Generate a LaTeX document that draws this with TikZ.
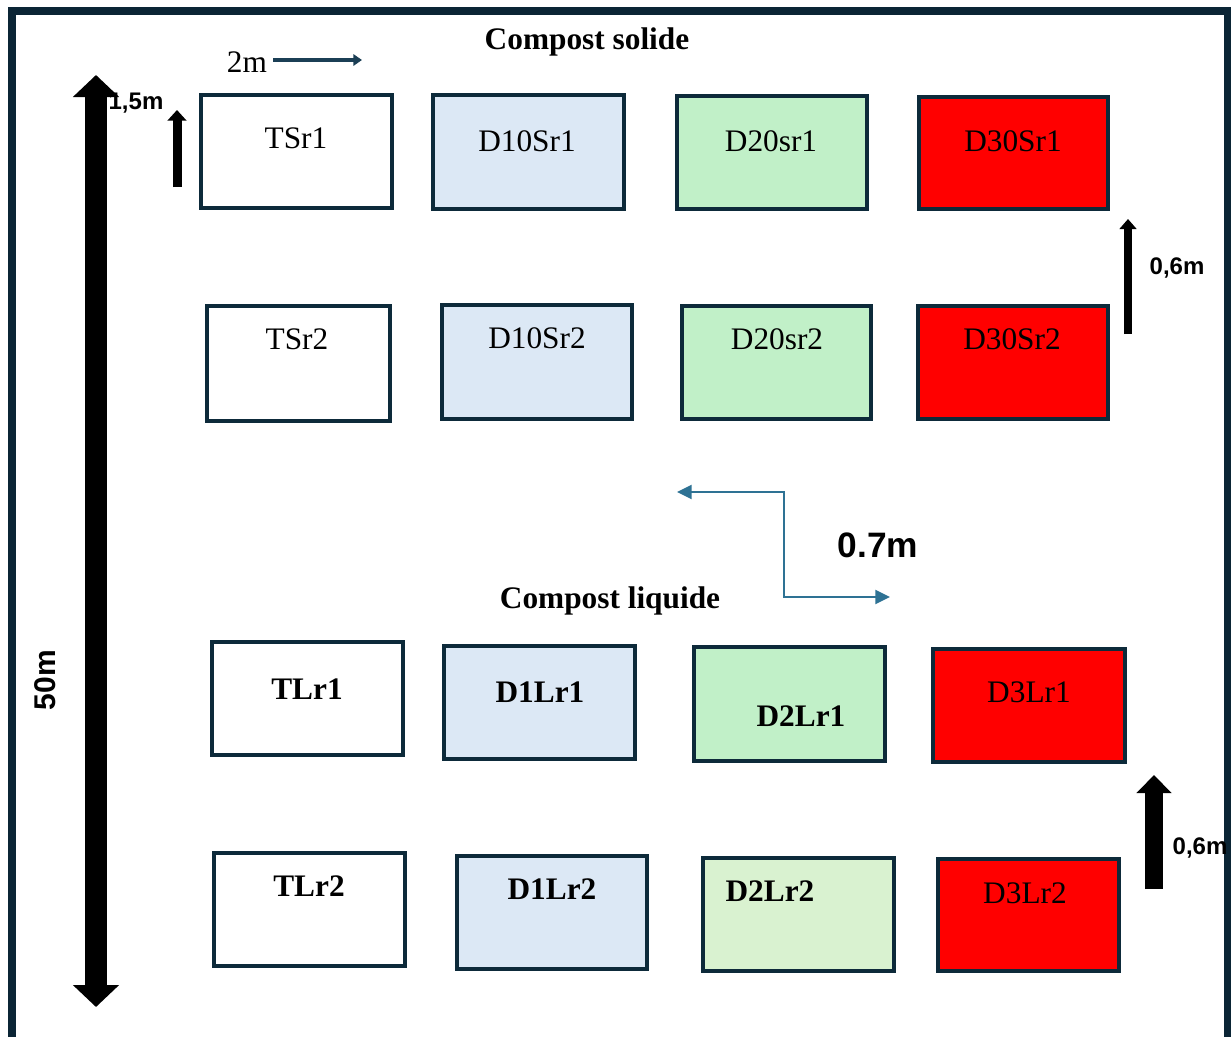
\documentclass[tikz,border=0pt]{standalone}
\usepackage{fontspec}
\setmainfont{Liberation Serif}
\newfontfamily\arialf{Liberation Sans}
\usetikzlibrary{arrows.meta}
\definecolor{framec}{HTML}{0B2535}
\definecolor{boxc}{HTML}{0D2A3A}
\definecolor{lblue}{HTML}{DCE8F5}
\definecolor{lgreen}{HTML}{C1F0C8}
\definecolor{pgreen}{HTML}{D9F2D0}
\definecolor{rred}{HTML}{FF0000}
\definecolor{navyarrow}{HTML}{1B3F55}
\definecolor{tealc}{HTML}{2E7294}
\tikzset{
  box/.style={draw=boxc, line width=2.6pt, inner sep=0pt},
  sz/.style 2 args={minimum width=#1*0.75pt, minimum height=#2*0.75pt},
  lab/.style={inner sep=0pt, font=\fontsize{23.5}{28}\selectfont},
  blab/.style={inner sep=0pt, font=\fontsize{23.5}{28}\selectfont\bfseries},
  slab/.style={inner sep=0pt, font=\arialf\bfseries\fontsize{18}{22}\selectfont},
  blk/.style={draw=black, line cap=butt},
}
\begin{document}
\begin{tikzpicture}[x=0.75pt,y=-0.75pt]
\useasboundingbox (0,0) rectangle (1231,1036);
\fill[white] (0,0) rectangle (1231,1036);
% frame
\draw[framec, line width=6pt] (11.5,1070) -- (11.5,11) -- (1227.5,11) -- (1227.5,1070);

% row 1
\node[box, sz={191}{113}] (TSr1) at (296.5,151.5) {};
\node[box, fill=lblue, sz={191}{114}] (D10Sr1) at (528.5,152) {};
\node[box, fill=lgreen, sz={190}{113}] (D20sr1) at (772,152.5) {};
\node[box, fill=rred, sz={189}{112}] (D30Sr1) at (1013.5,153) {};
% row 2
\node[box, sz={183}{115}] (TSr2) at (298.5,363.5) {};
\node[box, fill=lblue, sz={190}{114}] (D10Sr2) at (537,362) {};
\node[box, fill=lgreen, sz={189}{113}] (D20sr2) at (776.5,362.5) {};
\node[box, fill=rred, sz={190}{113}] (D30Sr2) at (1013,362.5) {};
% row 3
\node[box, sz={191}{113}] (TLr1) at (307.5,698.5) {};
\node[box, fill=lblue, sz={191}{113}] (D1Lr1) at (539.5,702.5) {};
\node[box, fill=lgreen, sz={191}{114}] (D2Lr1) at (789.5,704) {};
\node[box, fill=rred, sz={192}{113}] (D3Lr1) at (1029,705.5) {};
% row 4
\node[box, sz={191}{113}] (TLr2) at (309.5,909.5) {};
\node[box, fill=lblue, sz={190}{113}] (D1Lr2) at (552,912.5) {};
\node[box, fill=pgreen, sz={191}{113}] (D2Lr2) at (798.5,914.5) {};
\node[box, fill=rred, sz={181}{112}] (D3Lr2) at (1028.5,915) {};

% box labels
\node[lab] (tTSr1) at (296,138) {TSr1};
\node[lab] (tD10Sr1) at (527,141) {D10Sr1};
\node[lab] (tD20sr1) at (771,141) {D20sr1};
\node[lab] (tD30Sr1) at (1013,141) {D30Sr1};
\node[lab] (tTSr2) at (297,339) {TSr2};
\node[lab] (tD10Sr2) at (537,338) {D10Sr2};
\node[lab] (tD20sr2) at (777,339) {D20sr2};
\node[lab] (tD30Sr2) at (1012,339) {D30Sr2};
\node[blab] (tTLr1) at (307,689) {TLr1};
\node[blab] (tD1Lr1) at (540,692) {D1Lr1};
\node[blab] (tD2Lr1) at (801,716) {D2Lr1};
\node[lab] (tD3Lr1) at (1029,692) {D3Lr1};
\node[blab] (tTLr2) at (309,886) {TLr2};
\node[blab] (tD1Lr2) at (552,889) {D1Lr2};
\node[blab] (tD2Lr2) at (770,891) {D2Lr2};
\node[lab] (tD3Lr2) at (1025,893) {D3Lr2};

% titles
\node[blab] (tsol) at (587,42) {Compost solide};
\node[blab] (tliq) at (610,601) {Compost liquide};

% 2m arrow
\node[lab] (t2m) at (247,62) {2m};
\coordinate (a2s) at (273,60);
\coordinate (a2e) at (362,60);
\draw[navyarrow, line width=3pt, -{Triangle[width=8.5pt,length=6.5pt]}] (a2s) -- (a2e);

% big 50m arrow
\coordinate (bigT) at (96,75);
\coordinate (bigB) at (96,1007);
\draw[blk, line width=17pt, {Triangle[width=33.75pt,length=16.5pt]}-{Triangle[width=33.75pt,length=16.5pt]}] (bigT) -- (bigB);
\node[inner sep=0pt, rotate=90, font=\arialf\bfseries\fontsize{22.5}{26}\selectfont] (t50) at (45,680) {50m};

% 1,5m arrow
\coordinate (a15s) at (177,187);
\coordinate (a15e) at (177,110);
\draw[blk, line width=6.75pt, -{Triangle[width=14pt,length=8pt]}] (a15s) -- (a15e);
\node[slab] (t15) at (136,103) {1,5m};

% top right 0,6m arrow
\coordinate (a06s) at (1128,334);
\coordinate (a06e) at (1128,219);
\draw[blk, line width=6pt, -{Triangle[width=12.5pt,length=7.5pt]}] (a06s) -- (a06e);
\node[slab] (t06a) at (1177,268) {0,6m};

% bottom right 0,6m arrow
\coordinate (b06s) at (1154,889);
\coordinate (b06e) at (1154,775);
\draw[blk, line width=13.5pt, -{Triangle[width=25.5pt,length=13.5pt]}] (b06s) -- (b06e);
\node[slab] (t06b) at (1200,848) {0,6m};

% elbow 0.7m arrow
\coordinate (e1) at (677,492);
\coordinate (ec) at (784,492);
\coordinate (e2) at (890,597);
\draw[tealc, line width=1.5pt, {Triangle[width=10.5pt,length=11pt]}-{Triangle[width=10.5pt,length=11pt]}] (e1) -- (ec) |- (e2);
\node[inner sep=0pt, font=\arialf\bfseries\fontsize{26.5}{30}\selectfont] (t07) at (878,545) {0.7m};
\end{tikzpicture}
\end{document}
